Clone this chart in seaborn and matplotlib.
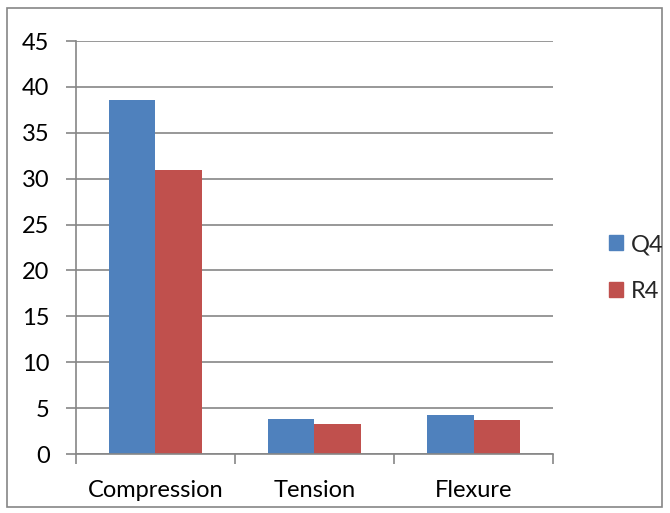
import matplotlib
matplotlib.use("Agg")
import matplotlib.pyplot as plt
import matplotlib.patches as mpatches
import pandas as pd
import seaborn as sns

categories = ["Compression", "Tension", "Flexure"]
q4_values = [38.6, 3.8, 4.2]
r4_values = [31.0, 3.3, 3.7]
series_names = ["Q4", "R4"]
colors = ["#4F81BD", "#C0504D"]
y_ticks = [0, 5, 10, 15, 20, 25, 30, 35, 40, 45]

df = pd.DataFrame({
    "category": categories * 2,
    "value": q4_values + r4_values,
    "series": [series_names[0]] * 3 + [series_names[1]] * 3,
})

sns.set_theme(style="white")
plt.rcParams["font.family"] = ["Lato", "DejaVu Sans"]

fig = plt.figure(figsize=(6.7, 5.13), dpi=100)
ax = fig.add_axes([0.1134, 0.115, 0.712, 0.805])

sns.barplot(data=df, x="category", y="value", hue="series", palette=colors,
            width=0.58, saturation=1, edgecolor="none", ax=ax)

ax.set_xlim(-0.5, 2.5)
ax.set_ylim(0, 45)
ax.set_yticks(y_ticks)
ax.set_xlabel("")
ax.set_ylabel("")
ax.grid(axis="y", color="#868686", linewidth=1.2)
ax.set_axisbelow(True)
for side in ["top", "right"]:
    ax.spines[side].set_visible(False)
for side in ["left", "bottom"]:
    ax.spines[side].set_color("#868686")
    ax.spines[side].set_linewidth(1.2)

ax.tick_params(axis="y", length=7, width=1.2, color="#868686", labelsize=17,
               labelcolor="black", pad=12, direction="out", left=True)
ax.tick_params(axis="x", which="major", length=0, labelsize=17, labelcolor="black", pad=19)
ax.set_xticks([-0.5, 0.5, 1.5, 2.5], minor=True)
ax.tick_params(axis="x", which="minor", length=7, width=1.2, color="#868686", direction="out", bottom=True)

ax.get_legend().remove()
handles = [mpatches.Patch(color=c, label=n) for c, n in zip(colors, series_names)]
fig.legend(handles=handles, loc="center left", bbox_to_anchor=(0.877, 0.477),
           frameon=False, fontsize=17, handlelength=0.6, handleheight=0.6,
           handletextpad=0.35, labelspacing=1.1)

border = mpatches.Rectangle((0.011, 0.012), 0.977, 0.972, transform=fig.transFigure,
                            fill=False, edgecolor="#868686", linewidth=1.2)
fig.patches.append(border)

fig.savefig("out.png", dpi=100)
